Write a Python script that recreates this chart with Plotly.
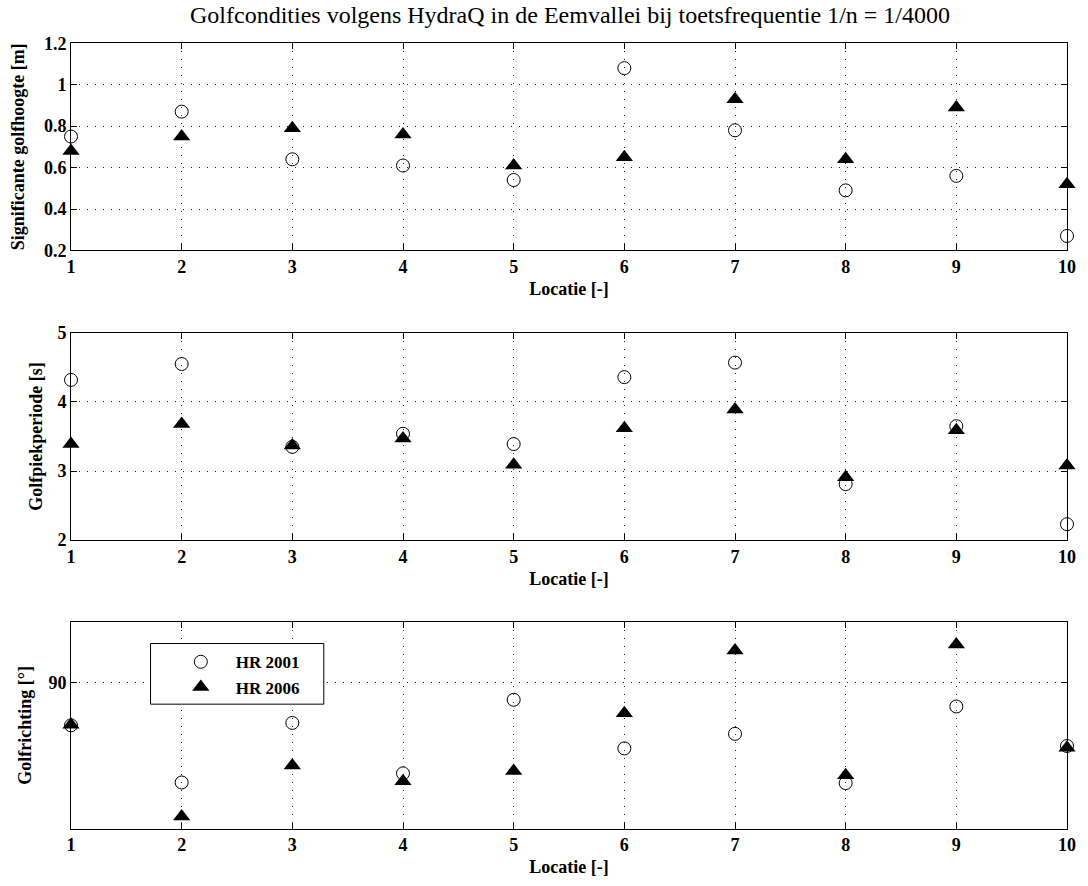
import plotly.graph_objects as go
from plotly.subplots import make_subplots

# ---- data ----
locatie = [1, 2, 3, 4, 5, 6, 7, 8, 9, 10]
hs_2001 = [0.75, 0.87, 0.64, 0.61, 0.54, 1.08, 0.78, 0.49, 0.56, 0.27]
hs_2006 = [0.68, 0.75, 0.79, 0.76, 0.61, 0.65, 0.93, 0.64, 0.89, 0.52]
tp_2001 = [4.32, 4.55, 3.35, 3.54, 3.39, 4.36, 4.57, 2.81, 3.65, 2.23]
tp_2006 = [3.39, 3.68, 3.37, 3.47, 3.09, 3.62, 3.89, 2.91, 3.59, 3.08]
dir_2001 = [83.0, 73.6, 83.4, 75.1, 87.2, 79.2, 81.6, 73.5, 86.1, 79.6]
dir_2006 = [83.1, 68.0, 76.4, 73.8, 75.5, 85.0, 95.3, 74.8, 96.3, 79.3]

series_names = ["HR 2001", "HR 2006"]
title_text = "Golfcondities volgens HydraQ in de Eemvallei bij toetsfrequentie 1/n = 1/4000"
xlabel = "Locatie [-]"
ylabels = ["Significante golfhoogte [m]", "Golfpiekperiode [s]", "Golfrichting [°]"]
y_ticks = [[0.2, 0.4, 0.6, 0.8, 1.0, 1.2], [2, 3, 4, 5], [90]]
y_ticktext = [["0.2", "0.4", "0.6", "0.8", "1", "1.2"], ["2", "3", "4", "5"], ["90"]]
y_ranges = [[0.2, 1.2], [2, 5], [66, 100]]

FONT = "Liberation Serif, Times New Roman, serif"
W, H = 1088, 886
ml, mt = 71, 43
pw, ph = 998, 787
mr, mb = W - ml - pw, H - mt - ph

fig = make_subplots(rows=3, cols=1, shared_xaxes=False, vertical_spacing=0.1)

# pixel rows of each panel -> paper domain
panel_px = [(43.3, 250.7), (333.3, 540.7), (622.7, 829.7)]
def ypaper(py):
    return (mt + ph - py) / ph
domains = [[max(0.0, ypaper(b)), min(1.0, ypaper(t))] for t, b in panel_px]
def xpaper(px):
    return (px - ml) / pw

data = [(hs_2001, hs_2006), (tp_2001, tp_2006), (dir_2001, dir_2006)]
standoffs = [14, 10, 12]

for i, (a, b) in enumerate(data):
    r = i + 1
    fig.add_trace(go.Scatter(
        x=locatie, y=a, mode="markers", name=series_names[0],
        marker=dict(symbol="circle-open", size=13, color="black", line=dict(width=1, color="black")),
        cliponaxis=False, showlegend=(i == 2), legendgroup="a"), row=r, col=1)
    fig.add_trace(go.Scatter(
        x=locatie, y=b, mode="markers", name=series_names[1],
        marker=dict(symbol="triangle-up", size=15, color="black", line=dict(width=0)),
        cliponaxis=False, showlegend=(i == 2), legendgroup="b"), row=r, col=1)

    axis_common = dict(
        showline=True, linecolor="black", linewidth=1, mirror="ticks",
        ticks="inside", ticklen=6, tickcolor="black", tickwidth=1,
        showgrid=True, gridcolor="#222222", gridwidth=1, griddash="1px,7px",
        zeroline=False,
        tickfont=dict(family=FONT, size=18, color="black", weight="bold"),
    )
    fig.update_xaxes(
        range=[1, 10], tickvals=locatie, ticktext=[str(v) for v in locatie],
        title=dict(text=xlabel, font=dict(family=FONT, size=18, color="black", weight="bold"), standoff=6),
        row=r, col=1, **axis_common)
    fig.update_yaxes(
        range=y_ranges[i], tickvals=y_ticks[i], ticktext=y_ticktext[i], domain=domains[i],
        title=dict(text=ylabels[i], font=dict(family=FONT, size=18, color="black", weight="bold"),
                   standoff=standoffs[i]),
        row=r, col=1, **axis_common)

# legend box (white background with black border) in the bottom panel
fig.add_shape(type="rect", xref="paper", yref="paper",
              x0=xpaper(150.7), x1=xpaper(324.3),
              y0=ypaper(705), y1=ypaper(644.3),
              line=dict(color="black", width=1), fillcolor="white", layer="above")

fig.update_layout(
    width=W, height=H,
    margin=dict(l=ml, r=mr, t=mt, b=mb),
    paper_bgcolor="white", plot_bgcolor="white",
    font=dict(family=FONT, color="black"),
    title=dict(text=title_text, x=570 / W, xanchor="center", xref="container",
               y=1 - 15 / H, yanchor="middle", yref="container",
               font=dict(family=FONT, size=24, color="black")),
    legend=dict(x=xpaper(166), y=ypaper(645), xanchor="left", yanchor="top",
                bgcolor="rgba(0,0,0,0)", borderwidth=0, itemwidth=60, tracegroupgap=0,
                font=dict(family=FONT, size=17, color="black", weight="bold")),
    showlegend=True,
)

fig.write_html("out.html",
               config={"displayModeBar": False},
               post_script="document.body.style.margin='0px';document.body.style.overflow='hidden';")
